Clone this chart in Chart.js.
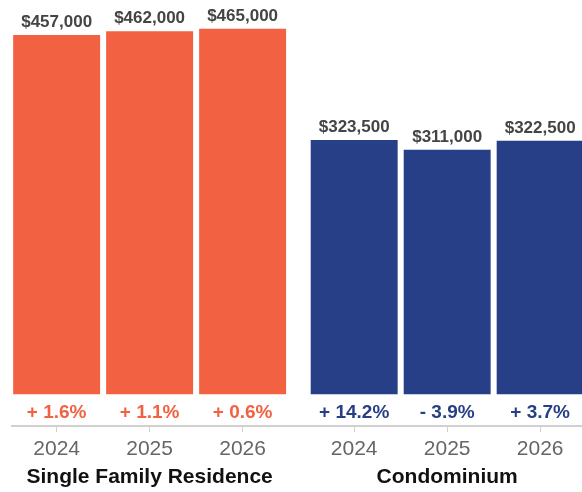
<!DOCTYPE html>
<html>
<head>
<meta charset="utf-8">
<script src="https://cdn.jsdelivr.net/npm/chart.js@4.4.1/dist/chart.umd.min.js"></script>
<style>
  body { margin: 0; background: #fff; }
  #wrap { width: 582px; height: 492px; position: relative; }
</style>
</head>
<body>
<div id="wrap"><canvas id="priceChart"></canvas></div>
<script>
// values
const years = ['2024', '2025', '2026'];
const groups = ['Single Family Residence', 'Condominium'];
const sfrPrices = [457000, 462000, 465000];
const condoPrices = [323500, 311000, 322500];
const sfrChange = ['+ 1.6%', '+ 1.1%', '+ 0.6%'];
const condoChange = ['+ 14.2%', '- 3.9%', '+ 3.7%'];

const ORANGE = '#F26141';
const NAVY = '#273F87';
const GROUP_STEP = 3.2; // gap between the two groups, in bar slots

// bar slot position for group g, year i
function slot(g, i) { return g * GROUP_STEP + i; }

const yearTicks = [];
groups.forEach((g, gi) => years.forEach((y, i) => yearTicks.push({ value: slot(gi, i), label: y })));
const groupTicks = groups.map((g, gi) => ({ value: slot(gi, 1), label: g }));

function toPoints(values, g) {
    return values.map((v, i) => ({ x: slot(g, i), y: v }));
}

const labelPlugin = {
    id: 'barLabels',
    afterDatasetsDraw(chart) {
        const ctx = chart.ctx;
        const changes = [sfrChange, condoChange];
        chart.data.datasets.forEach((ds, di) => {
            const meta = chart.getDatasetMeta(di);
            meta.data.forEach((bar, i) => {
                ctx.save();
                ctx.textAlign = 'center';
                ctx.textBaseline = 'alphabetic';
                // price above the bar
                ctx.font = 'bold 17px "Liberation Sans", Arial, sans-serif';
                ctx.fillStyle = '#444444';
                ctx.fillText('$' + ds.data[i].y.toLocaleString('en-US'), bar.x, bar.y - 8);
                // change below the bar
                ctx.font = 'bold 19px "Liberation Sans", Arial, sans-serif';
                ctx.fillStyle = ds.backgroundColor;
                ctx.fillText(changes[di][i], bar.x, bar.base + 24);
                ctx.restore();
            });
        });
    }
};

new Chart(document.getElementById('priceChart').getContext('2d'), {
    type: 'bar',
    data: {
        datasets: [
            { label: groups[0], data: toPoints(sfrPrices, 0), backgroundColor: ORANGE, xAxisID: 'x', grouped: false, barPercentage: 0.935, categoryPercentage: 1 },
            { label: groups[1], data: toPoints(condoPrices, 1), backgroundColor: NAVY, xAxisID: 'x', grouped: false, barPercentage: 0.935, categoryPercentage: 1 }
        ]
    },
    options: {
        responsive: true,
        maintainAspectRatio: false,
        animation: false,
        layout: { padding: { left: 12, right: 0, top: 0, bottom: 4 } },
        plugins: {
            legend: { display: false },
            tooltip: { enabled: false }
        },
        scales: {
            y: {
                display: false,
                min: -40640,
                max: 501650
            },
            x: {
                type: 'linear',
                position: 'bottom',
                min: -0.48,
                max: 5.65,
                offset: false,
                weight: 0,
                border: { display: true, color: '#d0d0d0', width: 2 },
                grid: { drawOnChartArea: false, drawTicks: true, tickLength: 6, color: '#d0d0d0', offset: false },
                afterBuildTicks: axis => { axis.ticks = yearTicks.map(t => ({ value: t.value })); },
                ticks: {
                    autoSkip: false,
                    maxRotation: 0,
                    padding: 7,
                    color: '#666666',
                    font: { family: '"Liberation Sans", Arial, sans-serif', size: 21, lineHeight: 1.0 },
                    callback: (value, index) => yearTicks[index] ? yearTicks[index].label : ''
                }
            },
            x2: {
                type: 'linear',
                position: 'bottom',
                min: -0.48,
                max: 5.65,
                offset: false,
                weight: 1,
                border: { display: false },
                grid: { display: false, drawTicks: false },
                afterBuildTicks: axis => { axis.ticks = groupTicks.map(t => ({ value: t.value })); },
                ticks: {
                    autoSkip: false,
                    maxRotation: 0,
                    padding: 1,
                    color: '#111111',
                    font: { family: '"Liberation Sans", Arial, sans-serif', size: 21, weight: 'bold', lineHeight: 0.9 },
                    callback: (value, index) => groupTicks[index] ? groupTicks[index].label : ''
                }
            }
        }
    },
    plugins: [labelPlugin]
});
</script>
</body>
</html>
